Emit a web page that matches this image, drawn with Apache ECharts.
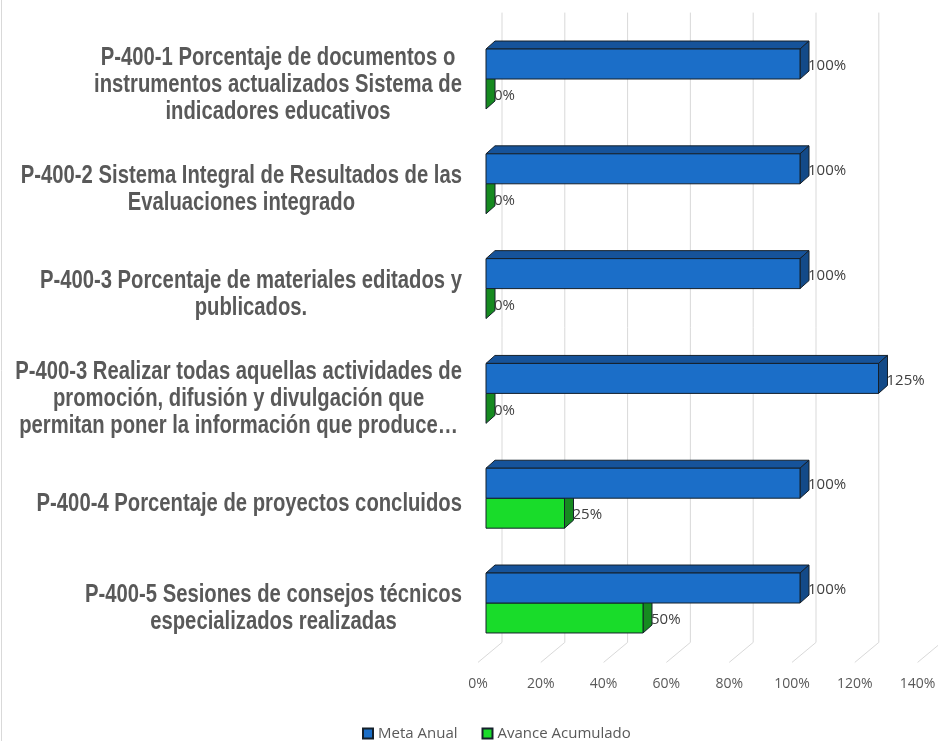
<!DOCTYPE html>
<html>
<head>
<meta charset="utf-8">
<script src="https://cdn.jsdelivr.net/npm/echarts@6/dist/echarts.min.js"></script>
<style>html,body{margin:0;padding:0;background:#fff}#c{width:938px;height:741px}</style>
</head>
<body>
<div id="c"></div>
<script>
const categories = [
  'P-400-1 Porcentaje de documentos o\ninstrumentos actualizados Sistema de\nindicadores educativos',
  'P-400-2 Sistema Integral de Resultados de las\nEvaluaciones integrado',
  'P-400-3 Porcentaje de materiales editados y\npublicados.',
  'P-400-3 Realizar todas aquellas actividades de\npromoción, difusión y divulgación que\npermitan poner la información que produce…',
  'P-400-4 Porcentaje de proyectos concluidos',
  'P-400-5 Sesiones de consejos técnicos\nespecializados realizadas'
];
const metaAnual = [100, 100, 100, 125, 100, 100];
const avanceAcumulado = [0, 0, 0, 0, 25, 50];
const ticks = [0, 20, 40, 60, 80, 100, 120, 140];
const seriesNames = ['Meta Anual', 'Avance Acumulado'];

const DX = 9, DY = -8;
function bar3d(front, top, side, upper) {
  return function (params, api) {
    const v = api.value(0), c = api.value(1);
    const p0 = api.coord([0, c]);
    const p1 = api.coord([v, c]);
    const band = api.size([0, 1])[1];
    const h = band * 0.286;
    const x0 = p0[0], x1 = p1[0];
    const y0 = upper ? p0[1] - h : p0[1];
    const st = { stroke: '#15202b', lineWidth: 1 };
    const children = [];
    children.push({ type: 'polygon', shape: { points: [[x0, y0], [x1, y0], [x1 + DX, y0 + DY], [x0 + DX, y0 + DY]] }, style: Object.assign({ fill: top }, st) });
    children.push({ type: 'polygon', shape: { points: [[x1, y0], [x1 + DX, y0 + DY], [x1 + DX, y0 + h + DY], [x1, y0 + h]] }, style: Object.assign({ fill: side }, st) });
    if (x1 - x0 > 0.5) children.push({ type: 'rect', shape: { x: x0, y: y0, width: x1 - x0, height: h }, style: Object.assign({ fill: front }, st) });
    children.push({ type: 'text', x: x1 + DX - 1, y: y0 + h / 2 + 2, style: { text: v + '%', fill: '#404040', font: '15px "Open Sans"', verticalAlign: 'middle', align: 'left' } });
    return { type: 'group', children: children };
  };
}

function gridRender(params, api) {
  const x = api.coord([api.value(0), 0])[0];
  const cs = params.coordSys;
  const top = cs.y - 14, bot = cs.y + cs.height;
  return { type: 'polyline', shape: { points: [[x + 16, top], [x + 16, bot - 13], [x - 8, bot + 7]] }, style: { stroke: '#d9d9d9', lineWidth: 1, fill: null } };
}

function labelRender(params, api) {
  const i = api.value(0);
  const y = api.coord([0, i])[1] + 6;
  const x = params.coordSys.x - 24;
  const txt = categories[i].split('\n').map(l => '{c|' + l + '}').join('\n');
  return {
    type: 'text', x: x, y: y, scaleX: 0.81, originX: 0, originY: 0,
    style: {
      text: txt, align: 'right', verticalAlign: 'middle',
      rich: { c: { align: 'center', fontSize: 25, fontWeight: 'bold', fontFamily: 'Liberation Sans', fill: '#595959', lineHeight: 27 } }
    }
  };
}

const chart = echarts.init(document.getElementById('c'), null, { renderer: 'canvas' });
chart.setOption({
  animation: false,
  backgroundColor: '#fff',
  grid: { left: 486, top: 26.6, width: 439.6, height: 628.8, containLabel: false, outerBoundsMode: 'none' },
  xAxis: {
    type: 'value', min: 0, max: 140, interval: 20,
    axisLine: { show: false }, axisTick: { show: false }, splitLine: { show: false },
    axisLabel: { formatter: '{value}%', color: '#595959', fontSize: 14, fontFamily: 'Open Sans', margin: 22, padding: [0, 16, 0, 0] }
  },
  yAxis: {
    type: 'category', data: categories, inverse: true,
    axisLine: { show: false }, axisTick: { show: false }, axisLabel: { show: false }
  },
  legend: {
    data: seriesNames, top: 721, left: 357, itemWidth: 10, itemHeight: 10, itemGap: 24,
    icon: 'rect',
    textStyle: { color: '#595959', fontSize: 15, fontFamily: 'Open Sans' }
  },
  graphic: [{ type: 'line', shape: { x1: 1.5, y1: 0, x2: 1.5, y2: 741 }, style: { stroke: '#d9d9d9', lineWidth: 1 } }],
  series: [
    { type: 'custom', name: 'grid', silent: true, z: 1, renderItem: gridRender, encode: { x: 0 }, data: ticks.map(t => [t]) },
    { type: 'custom', name: 'labels', silent: true, z: 1, renderItem: labelRender, encode: { y: 0 }, data: categories.map((c, i) => [i]) },
    { type: 'custom', name: seriesNames[1], z: 2, itemStyle: { color: '#19dc2a', borderColor: '#15202b', borderWidth: 1 },
      renderItem: bar3d('#19dc2a', '#14a822', '#168a20', false), encode: { x: 0, y: 1 },
      data: avanceAcumulado.map((v, i) => [v, i]) },
    { type: 'custom', name: seriesNames[0], z: 3, itemStyle: { color: '#1b6ec8', borderColor: '#15202b', borderWidth: 1 },
      renderItem: bar3d('#1b6ec8', '#16539a', '#134a88', true), encode: { x: 0, y: 1 },
      data: metaAnual.map((v, i) => [v, i]) }
  ]
});
</script>
</body>
</html>
